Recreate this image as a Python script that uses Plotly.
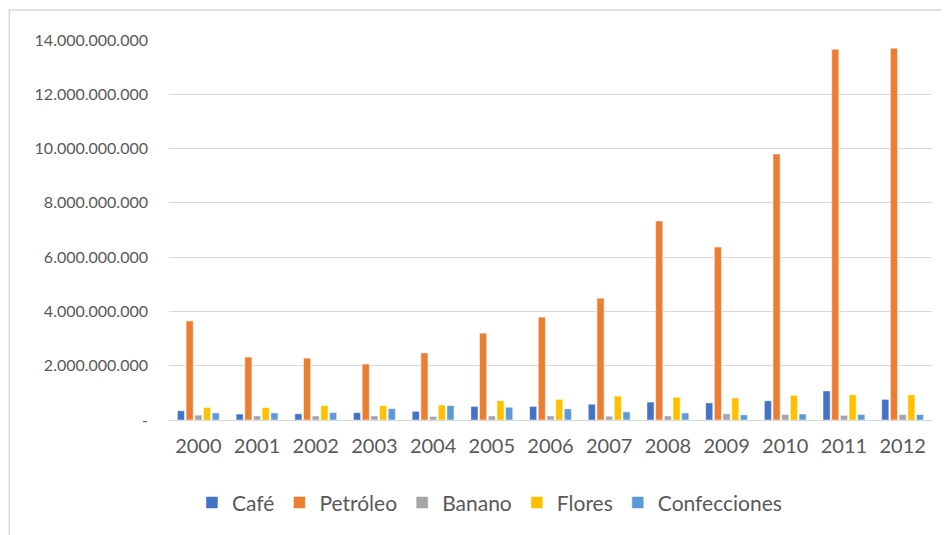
import plotly.graph_objects as go

years = ['2000', '2001', '2002', '2003', '2004', '2005', '2006',
         '2007', '2008', '2009', '2010', '2011', '2012']

cafe = [0.34e9, 0.22e9, 0.23e9, 0.27e9, 0.32e9, 0.50e9, 0.50e9,
        0.58e9, 0.66e9, 0.63e9, 0.71e9, 1.07e9, 0.76e9]
petroleo = [3.65e9, 2.32e9, 2.28e9, 2.06e9, 2.47e9, 3.20e9, 3.79e9,
            4.49e9, 7.33e9, 6.37e9, 9.80e9, 13.66e9, 13.70e9]
banano = [0.18e9, 0.15e9, 0.15e9, 0.15e9, 0.13e9, 0.15e9, 0.15e9,
          0.14e9, 0.15e9, 0.23e9, 0.20e9, 0.17e9, 0.20e9]
flores = [0.46e9, 0.46e9, 0.53e9, 0.53e9, 0.55e9, 0.71e9, 0.76e9,
          0.88e9, 0.84e9, 0.81e9, 0.91e9, 0.93e9, 0.93e9]
confecciones = [0.26e9, 0.26e9, 0.27e9, 0.42e9, 0.53e9, 0.47e9, 0.41e9,
                0.30e9, 0.26e9, 0.19e9, 0.22e9, 0.20e9, 0.20e9]

tick_vals = [0, 2e9, 4e9, 6e9, 8e9, 10e9, 12e9, 14e9]
tick_text = ['-', '2.000.000.000', '4.000.000.000', '6.000.000.000',
             '8.000.000.000', '10.000.000.000', '12.000.000.000', '14.000.000.000']

series = [
    ('Café', cafe, '#4472C4'),
    ('Petróleo', petroleo, '#ED7D31'),
    ('Banano', banano, '#A5A5A5'),
    ('Flores', flores, '#FFC000'),
    ('Confecciones', confecciones, '#5B9BD5'),
]

fig = go.Figure()
for name, vals, color in series:
    fig.add_trace(go.Bar(x=years, y=vals, name=name, marker_color=color,
                         marker_line=dict(color='white', width=0.5)))

# page body adds ~8px offset, margins compensate for it
fig.update_layout(
    width=949, height=535,
    barmode='group', bargap=0.26, bargroupgap=0.18,
    paper_bgcolor='white', plot_bgcolor='white',
    font=dict(family='Lato, Open Sans, sans-serif', color='#595959'),
    margin=dict(l=161, r=25, t=32, b=123),
    showlegend=True,
    legend=dict(orientation='h', x=0.42, xanchor='center', y=-0.218, yanchor='middle',
                font=dict(size=21, color='#595959'), itemwidth=30, traceorder='normal'),
)

fig.update_yaxes(range=[0, 14e9], tickvals=tick_vals, ticktext=tick_text,
                 tickfont=dict(size=16, color='#595959'),
                 showgrid=True, gridcolor='#D9D9D9', gridwidth=1.3,
                 zeroline=True, zerolinecolor='#D9D9D9', zerolinewidth=1.3,
                 ticks='', ticklabelstandoff=20)
fig.update_xaxes(tickfont=dict(size=20, color='#595959'), showline=False,
                 ticks='', ticklabelstandoff=12)

# chart frame
fig.add_shape(type='rect', xref='paper', yref='paper',
              x0=-0.2094, x1=1.06, y0=-0.33, y1=1.0789,
              line=dict(color='#D9D9D9', width=1.5), fillcolor='rgba(0,0,0,0)', layer='below')

fig.write_html("out.html")
